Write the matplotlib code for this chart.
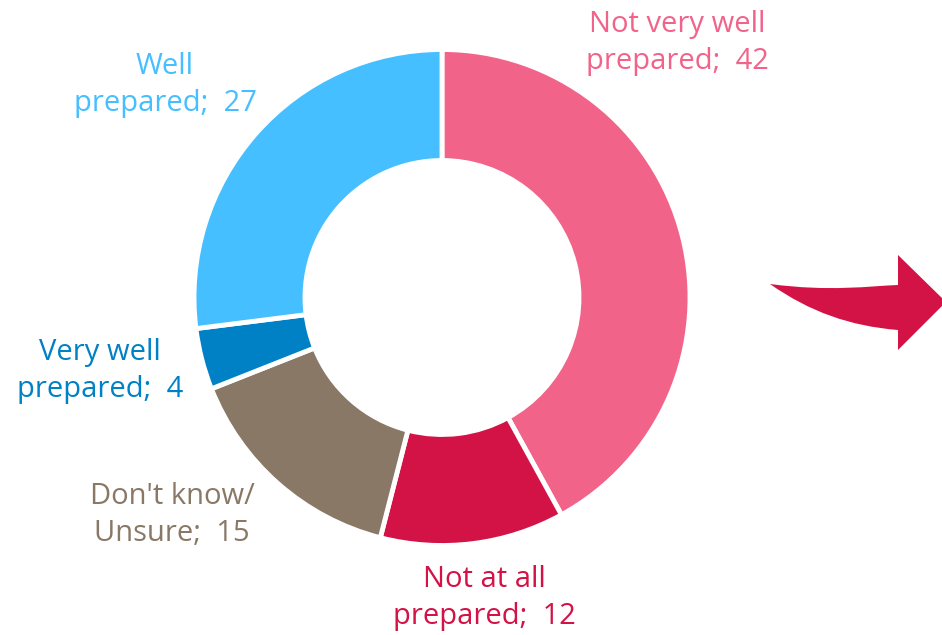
import matplotlib
matplotlib.use("Agg")
import matplotlib.pyplot as plt
from matplotlib.path import Path
from matplotlib.patches import PathPatch

W, H = 942, 635

categories = ["Not very well\nprepared", "Not at all\nprepared", "Don't know/\nUnsure",
              "Very well\nprepared", "Well\nprepared"]
values = [42, 12, 15, 4, 27]
colors = ["#F2638A", "#D31245", "#8A7866", "#0081C5", "#45BFFF"]
label_pos = [(677, 43), (484, 598), (172, 515), (100, 371), (165, 85)]

plt.rcParams['font.family'] = ['Open Sans', 'DejaVu Sans']

fig = plt.figure(figsize=(W / 100, H / 100), dpi=100)
ax = fig.add_axes([0, 0, 1, 1])

cx, cy, R = 442, H - 297.5, 248
ax.pie(values, colors=colors, startangle=90, counterclock=False,
       radius=R, center=(cx, cy),
       wedgeprops=dict(width=111, edgecolor='white', linewidth=3.5))

for cat, v, c, (x, y) in zip(categories, values, colors, label_pos):
    ax.text(x, H - y, f"{cat};  {v}", color=c, fontsize=21,
            ha='center', va='center', multialignment='center', linespacing=1.38)

# decorative arrow on the right edge
def P(x, y):
    return (x, H - y)

verts = [P(770, 284),
         P(830, 292), P(870, 286), P(898, 285),
         P(898, 255), P(946, 302), P(898, 350), P(898, 330),
         P(850, 326), P(810, 312), P(770, 284), P(770, 284)]
codes = [Path.MOVETO,
         Path.CURVE4, Path.CURVE4, Path.CURVE4,
         Path.LINETO, Path.LINETO, Path.LINETO, Path.LINETO,
         Path.CURVE4, Path.CURVE4, Path.CURVE4, Path.CLOSEPOLY]
ax.add_patch(PathPatch(Path(verts, codes), facecolor="#D31245", edgecolor='none'))

ax.set_xlim(0, W)
ax.set_ylim(0, H)
ax.set_aspect('equal')
ax.axis('off')
fig.savefig("out.png", dpi=100)
